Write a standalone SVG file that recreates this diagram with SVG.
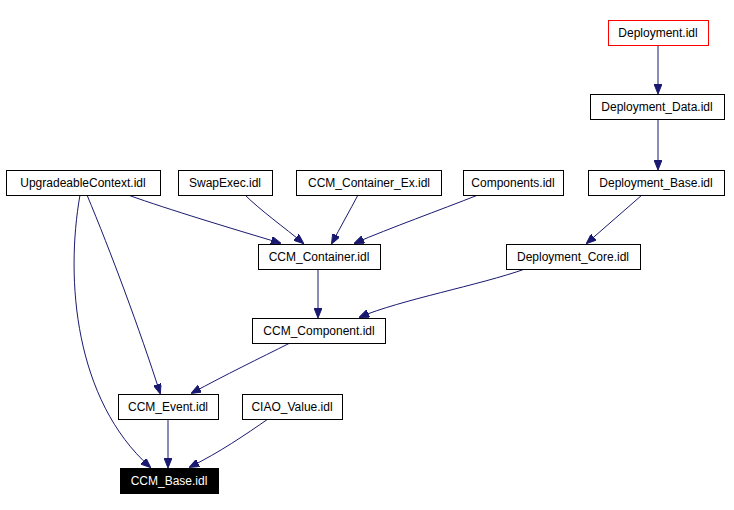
<svg xmlns="http://www.w3.org/2000/svg" width="734" height="510" viewBox="0 0 734 510">
<style>
.n rect{fill:#fff;stroke:#000;stroke-width:1}
.n text{font-family:"Liberation Sans",Arial,sans-serif;font-size:12px;text-anchor:middle;fill:#000}
#edges path{fill:none;stroke:#191970;stroke-width:1;marker-end:url(#a)}
</style>
<defs><marker id="a" markerWidth="10" markerHeight="8" refX="9" refY="4" orient="auto" markerUnits="userSpaceOnUse"><path d="M0,0 L10,4 L0,8 Z" fill="#191970" stroke="#191970"/></marker></defs>
<rect width="734" height="510" fill="#fff"/>
<g id="edges">
<path d="M658,46 L658,93"/>
<path d="M658,119 L658,169"/>
<path d="M642,195 L587,243"/>
<path d="M128,195 C170,210 230,228 280,243"/>
<path d="M245,195 C260,210 285,228 303,243"/>
<path d="M358,195 C350,210 340,228 332,243"/>
<path d="M478,195 C440,210 390,228 355,243"/>
<path d="M318,269 L318,317"/>
<path d="M525,269 C480,285 400,300 360,317"/>
<path d="M87,195 C110,250 140,330 160,393"/>
<path d="M80,195 C65,280 75,400 150,467"/>
<path d="M290,343 C260,358 225,375 192,393"/>
<path d="M168,419 L168,467"/>
<path d="M268,419 C245,435 220,452 190,467"/>
</g>
<g id="n1" class="n"><rect x="608.5" y="20.5" width="100" height="25" style="stroke:#f00"/><text x="658" y="37">Deployment.idl</text></g>
<g id="n2" class="n"><rect x="590.5" y="94.5" width="134" height="25"/><text x="657" y="111">Deployment_Data.idl</text></g>
<g id="n3" class="n"><rect x="588.5" y="170.5" width="136" height="25"/><text x="656" y="187">Deployment_Base.idl</text></g>
<g id="n4" class="n"><rect x="506.5" y="244.5" width="134" height="25"/><text x="573" y="261">Deployment_Core.idl</text></g>
<g id="n5" class="n"><rect x="6.5" y="170.5" width="154" height="25"/><text x="83" y="187">UpgradeableContext.idl</text></g>
<g id="n6" class="n"><rect x="178.5" y="170.5" width="94" height="25"/><text x="225" y="187">SwapExec.idl</text></g>
<g id="n7" class="n"><rect x="296.5" y="170.5" width="145" height="25"/><text x="369" y="187">CCM_Container_Ex.idl</text></g>
<g id="n8" class="n"><rect x="463.5" y="170.5" width="100" height="25"/><text x="513" y="187">Components.idl</text></g>
<g id="n9" class="n"><rect x="258.5" y="244.5" width="122" height="25"/><text x="319" y="261">CCM_Container.idl</text></g>
<g id="n10" class="n"><rect x="252.5" y="318.5" width="133" height="25"/><text x="319" y="335">CCM_Component.idl</text></g>
<g id="n11" class="n"><rect x="118.5" y="394.5" width="100" height="25"/><text x="168" y="411">CCM_Event.idl</text></g>
<g id="n12" class="n"><rect x="242.5" y="394.5" width="100" height="25"/><text x="292" y="411">CIAO_Value.idl</text></g>
<g id="n13" class="n"><rect x="120.5" y="468.5" width="98" height="25" style="fill:#000"/><text x="169" y="485" style="fill:#fff">CCM_Base.idl</text></g>
</svg>
